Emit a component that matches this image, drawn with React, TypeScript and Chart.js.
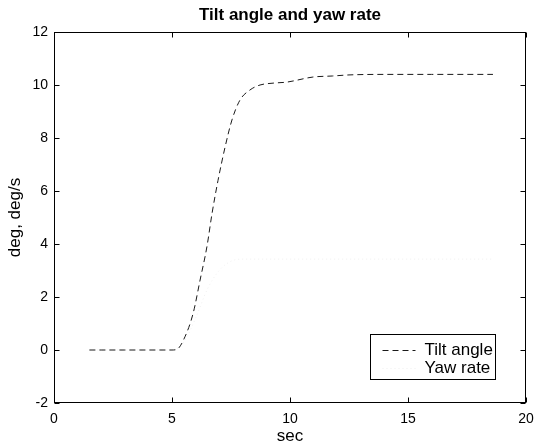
import React, { useEffect, useRef } from "react";
import { Chart, registerables } from "chart.js";

Chart.register(...registerables);

const chartTitle = "Tilt angle and yaw rate";
const xAxisLabel = "sec";
const yAxisLabel = "deg, deg/s";
const seriesNames = ["Tilt angle", "Yaw rate"];

const tiltTime = [1.5, 2, 3, 4, 5, 5.2, 5.55, 5.9, 6.19, 6.48, 6.7, 6.95, 7.25, 7.54, 7.88, 8.3, 8.73, 9.28, 9.87, 10.97, 11.8, 12.5, 14, 16, 18.6];
const tiltAngle = [0, 0, 0, 0, 0, 0.02, 0.5, 1.4, 2.64, 3.9, 5.17, 6.4, 7.66, 8.68, 9.43, 9.81, 10.0, 10.07, 10.11, 10.3, 10.34, 10.38, 10.4, 10.4, 10.4];

const yawTime = [1.5, 5, 5.5, 6, 6.5, 7, 7.5, 8, 10, 15, 17.4, 18.6];
const yawRate = [0, 0, 0.3, 1.2, 2.3, 3.0, 3.35, 3.43, 3.43, 3.43, 3.43, 3.43];

const xTicks = [0, 5, 10, 15, 20];
const yTicks = [-2, 0, 2, 4, 6, 8, 10, 12];

const FONT = "Arial, 'Liberation Sans', Helvetica, sans-serif";
const TILT_COLOR = "#1a1a1a";
const YAW_COLOR = "#efefef";

const boxPlugin = {
  id: "matlabBox",
  afterDraw(chart: any) {
    const { ctx, chartArea: a, scales } = chart;
    const L = Math.round(a.left) + 0.5;
    const R = Math.round(a.right) - 0.5;
    const T = Math.round(a.top) + 0.5;
    const B = Math.round(a.bottom) - 0.5;
    ctx.save();
    ctx.strokeStyle = "#000";
    ctx.lineWidth = 1;
    ctx.strokeRect(L, T, R - L, B - T);
    const tl = 5;
    ctx.beginPath();
    xTicks.forEach((v) => {
      const px = Math.round(scales.x.getPixelForValue(v)) + 0.5;
      ctx.moveTo(px, B);
      ctx.lineTo(px, B - tl);
      ctx.moveTo(px, T);
      ctx.lineTo(px, T + tl);
    });
    yTicks.forEach((v) => {
      const py = Math.round(scales.y.getPixelForValue(v)) + 0.5;
      ctx.moveTo(L, py);
      ctx.lineTo(L + tl, py);
      ctx.moveTo(R, py);
      ctx.lineTo(R - tl, py);
    });
    ctx.stroke();

    // legend box inside the axes (lower right)
    const bw = 125;
    const bh = 45;
    const bx = Math.round(a.right - 31 - bw) + 0.5;
    const by = Math.round(a.bottom - 24 - bh) + 0.5;
    ctx.fillStyle = "#fff";
    ctx.fillRect(bx, by, bw, bh);
    ctx.strokeStyle = "#000";
    ctx.strokeRect(bx, by, bw, bh);
    const datasets = chart.data.datasets;
    ctx.font = `17px ${FONT}`;
    ctx.textBaseline = "middle";
    ctx.textAlign = "left";
    datasets.forEach((ds: any, i: number) => {
      const y = Math.round(by + 15 + i * 18) + 0.5;
      ctx.save();
      ctx.strokeStyle = ds.borderColor;
      ctx.lineWidth = 1;
      ctx.setLineDash(ds.borderDash || []);
      ctx.beginPath();
      ctx.moveTo(bx + 12, y);
      ctx.lineTo(bx + 45, y);
      ctx.stroke();
      ctx.restore();
      ctx.fillStyle = "#000";
      ctx.fillText(ds.label, bx + 54, y);
    });
    ctx.restore();
  },
};

export default function App() {
  const ref = useRef<HTMLCanvasElement | null>(null);
  useEffect(() => {
    if (!ref.current) return;
    const chart = new Chart(ref.current, {
      type: "line",
      data: {
        datasets: [
          {
            label: seriesNames[0],
            data: tiltTime.map((t, i) => ({ x: t, y: tiltAngle[i] })),
            borderColor: TILT_COLOR,
            borderWidth: 1,
            borderDash: [6, 4],
            pointRadius: 0,
            cubicInterpolationMode: "monotone",
            fill: false,
          },
          {
            label: seriesNames[1],
            data: yawTime.map((t, i) => ({ x: t, y: yawRate[i] })),
            borderColor: YAW_COLOR,
            borderWidth: 1,
            borderDash: [1, 3],
            pointRadius: 0,
            cubicInterpolationMode: "monotone",
            fill: false,
          },
        ],
      },
      plugins: [boxPlugin],
      options: {
        animation: false,
        responsive: false,
        maintainAspectRatio: false,
        layout: { padding: { top: 0, right: 10, left: 0, bottom: 0 } },
        plugins: {
          legend: { display: false },
          tooltip: { enabled: false },
          title: {
            display: true,
            text: chartTitle,
            fullSize: false,
            color: "#000",
            font: { family: FONT, size: 17, weight: "bold", lineHeight: 1 },
            padding: { top: 6.5, bottom: 8.5 },
          },
        },
        scales: {
          x: {
            type: "linear",
            min: 0,
            max: 20,
            afterBuildTicks: (s: any) => {
              s.ticks = xTicks.map((v) => ({ value: v }));
            },
            afterFit: (s: any) => {
              s.height = 42;
              s.paddingLeft = 0;
              s.paddingRight = 0;
            },
            grid: { display: false, drawTicks: false },
            border: { display: false },
            ticks: {
              color: "#000",
              padding: 8,
              maxRotation: 0,
              font: { family: FONT, size: 14 },
            },
            title: {
              display: true,
              text: xAxisLabel,
              color: "#000",
              font: { family: FONT, size: 17, lineHeight: 1 },
              padding: { top: 0, bottom: 0 },
            },
          },
          y: {
            type: "linear",
            min: -2,
            max: 12,
            afterBuildTicks: (s: any) => {
              s.ticks = yTicks.map((v) => ({ value: v }));
            },
            afterFit: (s: any) => {
              s.width = 54;
              s.paddingTop = 0;
              s.paddingBottom = 0;
            },
            grid: { display: false, drawTicks: false },
            border: { display: false },
            ticks: {
              color: "#000",
              padding: 6,
              font: { family: FONT, size: 14 },
            },
            title: {
              display: true,
              text: yAxisLabel,
              color: "#000",
              font: { family: FONT, size: 17, lineHeight: 1 },
              padding: { top: 6.5, bottom: 0 },
            },
          },
        },
      },
    } as any);
    return () => chart.destroy();
  }, []);
  return (
    <div style={{ position: "fixed", left: 0, top: 0, width: 536, height: 445, background: "#fff" }}>
      <canvas ref={ref} width={536} height={445} style={{ display: "block", width: 536, height: 445 }} />
    </div>
  );
}
